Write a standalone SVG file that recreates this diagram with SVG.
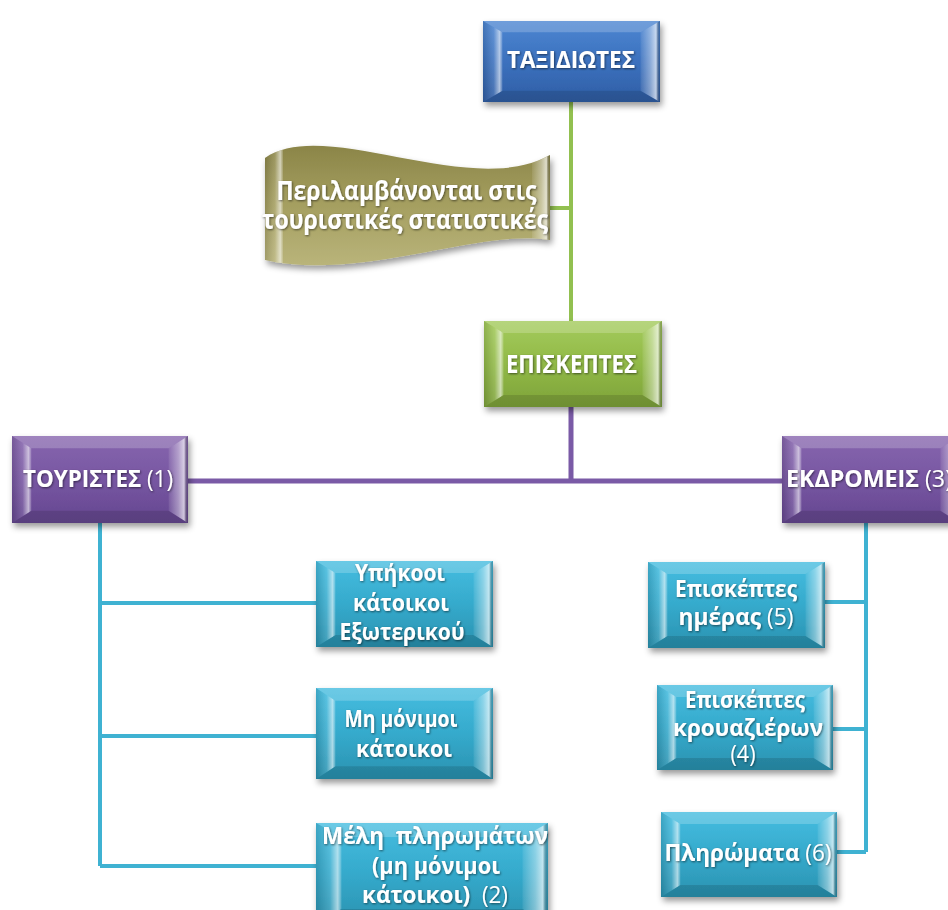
<svg xmlns="http://www.w3.org/2000/svg" xmlns:xlink="http://www.w3.org/1999/xlink" width="948" height="910" viewBox="0 0 948 910">
<defs>
  <linearGradient id="gBlue" x1="0" y1="0" x2="0" y2="1"><stop offset="0" stop-color="#4c86d2"/><stop offset=".5" stop-color="#3c71be"/><stop offset="1" stop-color="#2f5ea5"/></linearGradient>
  <linearGradient id="gGreen" x1="0" y1="0" x2="0" y2="1"><stop offset="0" stop-color="#a4cb5c"/><stop offset=".5" stop-color="#91b947"/><stop offset="1" stop-color="#7ea33a"/></linearGradient>
  <linearGradient id="gPurple" x1="0" y1="0" x2="0" y2="1"><stop offset="0" stop-color="#8766ae"/><stop offset=".5" stop-color="#7756a2"/><stop offset="1" stop-color="#654790"/></linearGradient>
  <linearGradient id="gTeal" x1="0" y1="0" x2="0" y2="1"><stop offset="0" stop-color="#46bde0"/><stop offset=".5" stop-color="#35aacc"/><stop offset="1" stop-color="#2a92b0"/></linearGradient>
  <linearGradient id="gOlive" x1="0" y1="0" x2="0" y2="1"><stop offset="0" stop-color="#8b8548"/><stop offset=".45" stop-color="#a39d5e"/><stop offset="1" stop-color="#b9b47a"/></linearGradient>
  <linearGradient id="bevL" x1="0" y1="0" x2="1" y2="0"><stop offset="0" stop-color="#000" stop-opacity=".12"/><stop offset=".55" stop-color="#fff" stop-opacity=".12"/><stop offset=".85" stop-color="#fff" stop-opacity=".6"/><stop offset="1" stop-color="#fff" stop-opacity=".15"/></linearGradient>
  <linearGradient id="bevR" x1="0" y1="0" x2="1" y2="0"><stop offset="0" stop-color="#fff" stop-opacity=".08"/><stop offset=".5" stop-color="#fff" stop-opacity=".4"/><stop offset=".8" stop-color="#fff" stop-opacity=".7"/><stop offset="1" stop-color="#000" stop-opacity=".15"/></linearGradient>
  <filter id="sh" x="-10%" y="-10%" width="125%" height="135%"><feDropShadow dx="2" dy="4" stdDeviation="3" flood-color="#000" flood-opacity=".4"/></filter>
  <filter id="ts" x="-5%" y="-20%" width="110%" height="140%"><feDropShadow dx="0.8" dy="1" stdDeviation="1" flood-color="#000" flood-opacity=".55"/></filter>
  <symbol id="bevel" viewBox="0 0 100 100" preserveAspectRatio="none">
    <polygon points="0,0 100,0 89,14 11,14" fill="#fff" opacity=".2"/>
    <polygon points="0,100 100,100 89,86 11,86" fill="#000" opacity=".12"/>
    <polygon points="0,0 11,14 11,86 0,100" fill="url(#bevL)"/>
    <polygon points="100,0 89,14 89,86 100,100" fill="url(#bevR)"/>
  </symbol>
  <clipPath id="bannerClip"><path d="M265,158 C325,116 470,200 550,155 L550,240 C480,228 360,282 265,260 Z"/></clipPath>
</defs>
<style>
  .t{font-family:"Open Sans","Noto Sans","DejaVu Sans",sans-serif;font-weight:700;fill:#fff;text-anchor:middle;filter:url(#ts)}
  .r{font-weight:400}
  .pre{white-space:pre}
  .cg{stroke:#92c050;stroke-width:4;fill:none}
  .cp{stroke:#7a5aa6;stroke-width:5;fill:none}
  .ct{stroke:#3fb2d2;stroke-width:4;fill:none}
</style>

<g id="connectors">
  <path class="cg" d="M571,102 V322 M550,208 H571"/>
  <path class="cp" d="M571,407 V481 M188,481 H782"/>
  <path class="ct" d="M100,523 V866 M100,603 H316 M100,736 H316 M100,866 H316"/>
  <path class="ct" d="M866,523 V852 M825,602 H866 M833,729 H866 M837,852 H866"/>
</g>

<g id="n-taxidiotes">
  <rect x="483" y="21" width="177" height="81" fill="url(#gBlue)" filter="url(#sh)"/>
  <use xlink:href="#bevel" x="483" y="21" width="177" height="81"/>
  <text class="t" x="571" y="68" font-size="23" textLength="128" lengthAdjust="spacingAndGlyphs">ΤΑΞΙΔΙΩΤΕΣ</text>
</g>

<g id="n-banner">
  <path d="M265,158 C325,116 470,200 550,155 L550,240 C480,228 360,282 265,260 Z" fill="url(#gOlive)" filter="url(#sh)"/>
  <g clip-path="url(#bannerClip)">
    <rect x="265" y="120" width="18" height="160" fill="url(#bevL)"/>
    <rect x="532" y="120" width="18" height="160" fill="url(#bevR)"/>
  </g>
  <text class="t" font-size="27">
    <tspan x="410" y="200" textLength="260" lengthAdjust="spacingAndGlyphs">Περιλαμβάνονται στις</tspan>
    <tspan x="405" y="229" textLength="286" lengthAdjust="spacingAndGlyphs">τουριστικές στατιστικές</tspan>
  </text>
</g>

<g id="n-episkeptes">
  <rect x="484" y="321" width="178" height="86" fill="url(#gGreen)" filter="url(#sh)"/>
  <use xlink:href="#bevel" x="484" y="321" width="178" height="86"/>
  <text class="t" x="571.5" y="373" font-size="25" textLength="131" lengthAdjust="spacingAndGlyphs">ΕΠΙΣΚΕΠΤΕΣ</text>
</g>

<g id="n-touristes">
  <rect x="12" y="436" width="176" height="87" fill="url(#gPurple)" filter="url(#sh)"/>
  <use xlink:href="#bevel" x="12" y="436" width="176" height="87"/>
  <text class="t" x="98" y="487" font-size="24" textLength="150" lengthAdjust="spacingAndGlyphs">ΤΟΥΡΙΣΤΕΣ <tspan class="r">(1)</tspan></text>
</g>

<g id="n-ekdromeis">
  <rect x="782" y="436" width="178" height="87" fill="url(#gPurple)" filter="url(#sh)"/>
  <use xlink:href="#bevel" x="782" y="436" width="178" height="87"/>
  <text class="t" x="869" y="487" font-size="24" textLength="166" lengthAdjust="spacingAndGlyphs">ΕΚΔΡΟΜΕΙΣ <tspan class="r">(3)</tspan></text>
</g>

<g id="n-ypikooi">
  <rect x="316" y="561" width="177" height="86" fill="url(#gTeal)" filter="url(#sh)"/>
  <use xlink:href="#bevel" x="316" y="561" width="177" height="86"/>
  <text class="t" font-size="23">
    <tspan x="403" y="581" textLength="90" lengthAdjust="spacingAndGlyphs">Υπήκοοι</tspan>
    <tspan x="404" y="611" textLength="96" lengthAdjust="spacingAndGlyphs">κάτοικοι</tspan>
    <tspan x="402" y="640" textLength="125" lengthAdjust="spacingAndGlyphs">Εξωτερικού</tspan>
  </text>
</g>

<g id="n-mi-monimoi">
  <rect x="316" y="688" width="177" height="91" fill="url(#gTeal)" filter="url(#sh)"/>
  <use xlink:href="#bevel" x="316" y="688" width="177" height="91"/>
  <text class="t" font-size="23">
    <tspan x="404" y="727" textLength="113" lengthAdjust="spacingAndGlyphs">Μη μόνιμοι</tspan>
    <tspan x="404" y="757" textLength="96" lengthAdjust="spacingAndGlyphs">κάτοικοι</tspan>
  </text>
</g>

<g id="n-meli">
  <rect x="316" y="823" width="232" height="100" fill="url(#gTeal)" filter="url(#sh)"/>
  <use xlink:href="#bevel" x="316" y="823" width="232" height="100"/>
  <text class="t pre" x="435" y="844" font-size="23" textLength="226" lengthAdjust="spacingAndGlyphs">Μέλη  πληρωμάτων</text>
  <text class="t" x="436" y="874" font-size="23" textLength="128" lengthAdjust="spacingAndGlyphs">(μη μόνιμοι</text>
  <text class="t pre" x="435" y="903" font-size="23" textLength="146" lengthAdjust="spacingAndGlyphs">κάτοικοι)  <tspan class="r">(2)</tspan></text>
</g>

<g id="n-imeras">
  <rect x="648" y="562" width="177" height="86" fill="url(#gTeal)" filter="url(#sh)"/>
  <use xlink:href="#bevel" x="648" y="562" width="177" height="86"/>
  <text class="t" x="736" y="597" font-size="23" textLength="122" lengthAdjust="spacingAndGlyphs">Επισκέπτες</text>
  <text class="t" x="736" y="625" font-size="23" textLength="115" lengthAdjust="spacingAndGlyphs">ημέρας <tspan class="r">(5)</tspan></text>
</g>

<g id="n-krouazieron">
  <rect x="657" y="685" width="176" height="85" fill="url(#gTeal)" filter="url(#sh)"/>
  <use xlink:href="#bevel" x="657" y="685" width="176" height="85"/>
  <text class="t" x="745" y="708" font-size="23" textLength="120" lengthAdjust="spacingAndGlyphs">Επισκέπτες</text>
  <text class="t" x="748" y="736" font-size="23" textLength="150" lengthAdjust="spacingAndGlyphs">κρουαζιέρων</text>
  <text class="t r" x="743" y="762" font-size="23" textLength="25" lengthAdjust="spacingAndGlyphs">(4)</text>
</g>

<g id="n-pliromata">
  <rect x="661" y="812" width="176" height="85" fill="url(#gTeal)" filter="url(#sh)"/>
  <use xlink:href="#bevel" x="661" y="812" width="176" height="85"/>
  <text class="t" x="748" y="861" font-size="23" textLength="167" lengthAdjust="spacingAndGlyphs">Πληρώματα <tspan class="r">(6)</tspan></text>
</g>
</svg>
